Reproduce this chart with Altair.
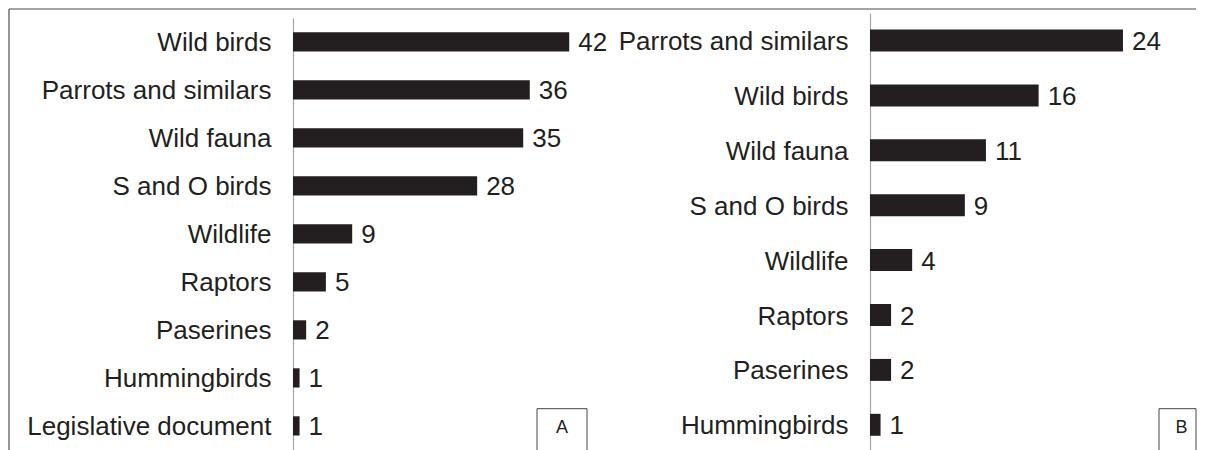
import altair as alt
import pandas as pd

# ---- data ----
cats_a = ["Wild birds", "Parrots and similars", "Wild fauna", "S and O birds",
          "Wildlife", "Raptors", "Paserines", "Hummingbirds", "Legislative document"]
vals_a = [42, 36, 35, 28, 9, 5, 2, 1, 1]

cats_b = ["Parrots and similars", "Wild birds", "Wild fauna", "S and O birds\u00a0",
          "Wildlife", "Raptors", "Paserines", "Hummingbirds"]
vals_b = [24, 16, 11, 9, 4, 2, 2, 1]

panel_letters = ["A", "B"]

FONT = "Liberation Sans"
INK = "#231f20"
FRAME = "#4a4a4a"


def panel(cats, vals, xmax, width, height, yrange, pad_inner, letter,
          box_x, box_w, letter_x, frame_left, draw_left_line):
    df = pd.DataFrame({"cat": cats, "val": vals})
    one = pd.DataFrame({"k": [0]})
    x = alt.X("val:Q", scale=alt.Scale(domain=[0, xmax], nice=False, zero=True), axis=None)
    y = alt.Y("cat:N", sort=cats, title=None,
              scale=alt.Scale(range=yrange, paddingInner=pad_inner, paddingOuter=pad_inner / 2),
              axis=alt.Axis(domain=True, domainColor="#a6a6a6", domainWidth=1.2,
                            ticks=False, grid=False, labelPadding=22, labelOffset=1.5,
                            labelFontSize=26, labelFont=FONT, labelColor=INK,
                            labelLimit=500))
    bars = alt.Chart(df).mark_bar(color=INK).encode(x=x, y=y)
    text = alt.Chart(df).mark_text(align="left", baseline="middle", dx=9, dy=1.5,
                                   fontSize=26, font=FONT, color=INK).encode(
        x=x, y=alt.Y("cat:N", sort=cats), text="val:Q")
    top_line = alt.Chart(one).mark_rule(color=FRAME, strokeWidth=1.2).encode(
        x=alt.value(frame_left), x2=alt.value(width), y=alt.value(0))
    layers = [bars, text, top_line]
    if draw_left_line:
        left_line = alt.Chart(one).mark_rule(color=FRAME, strokeWidth=1.2).encode(
            x=alt.value(frame_left), y=alt.value(0), y2=alt.value(height + 4))
        layers.append(left_line)
    box = alt.Chart(one).mark_rect(fill="white", stroke="#444444", strokeWidth=1).encode(
        x=alt.value(box_x), x2=alt.value(box_x + box_w),
        y=alt.value(399.7), y2=alt.value(height + 6))
    letter_t = alt.Chart(one).mark_text(fontSize=18, font=FONT, color=INK,
                                        baseline="middle", align="center").encode(
        x=alt.value(letter_x), y=alt.value(418.7), text=alt.value(letter))
    layers += [box, letter_t]
    return alt.layer(*layers).properties(width=width, height=height)


pa = panel(cats_a, vals_a, 44.7, 294, 442, [8.9, 440.9], 0.6, panel_letters[0],
           244, 50, 269, -284, True)
pb = panel(cats_b, vals_b, 30.93, 326, 442, [4.05, 443.25], 0.6, panel_letters[1],
           289, 37, 311.5, -283, False)

chart = alt.hconcat(pa, pb, spacing=283, bounds="flush").properties(padding=0).configure_view(stroke=None)

chart.save("out.html", embed_options={"renderer": "svg", "actions": False})
